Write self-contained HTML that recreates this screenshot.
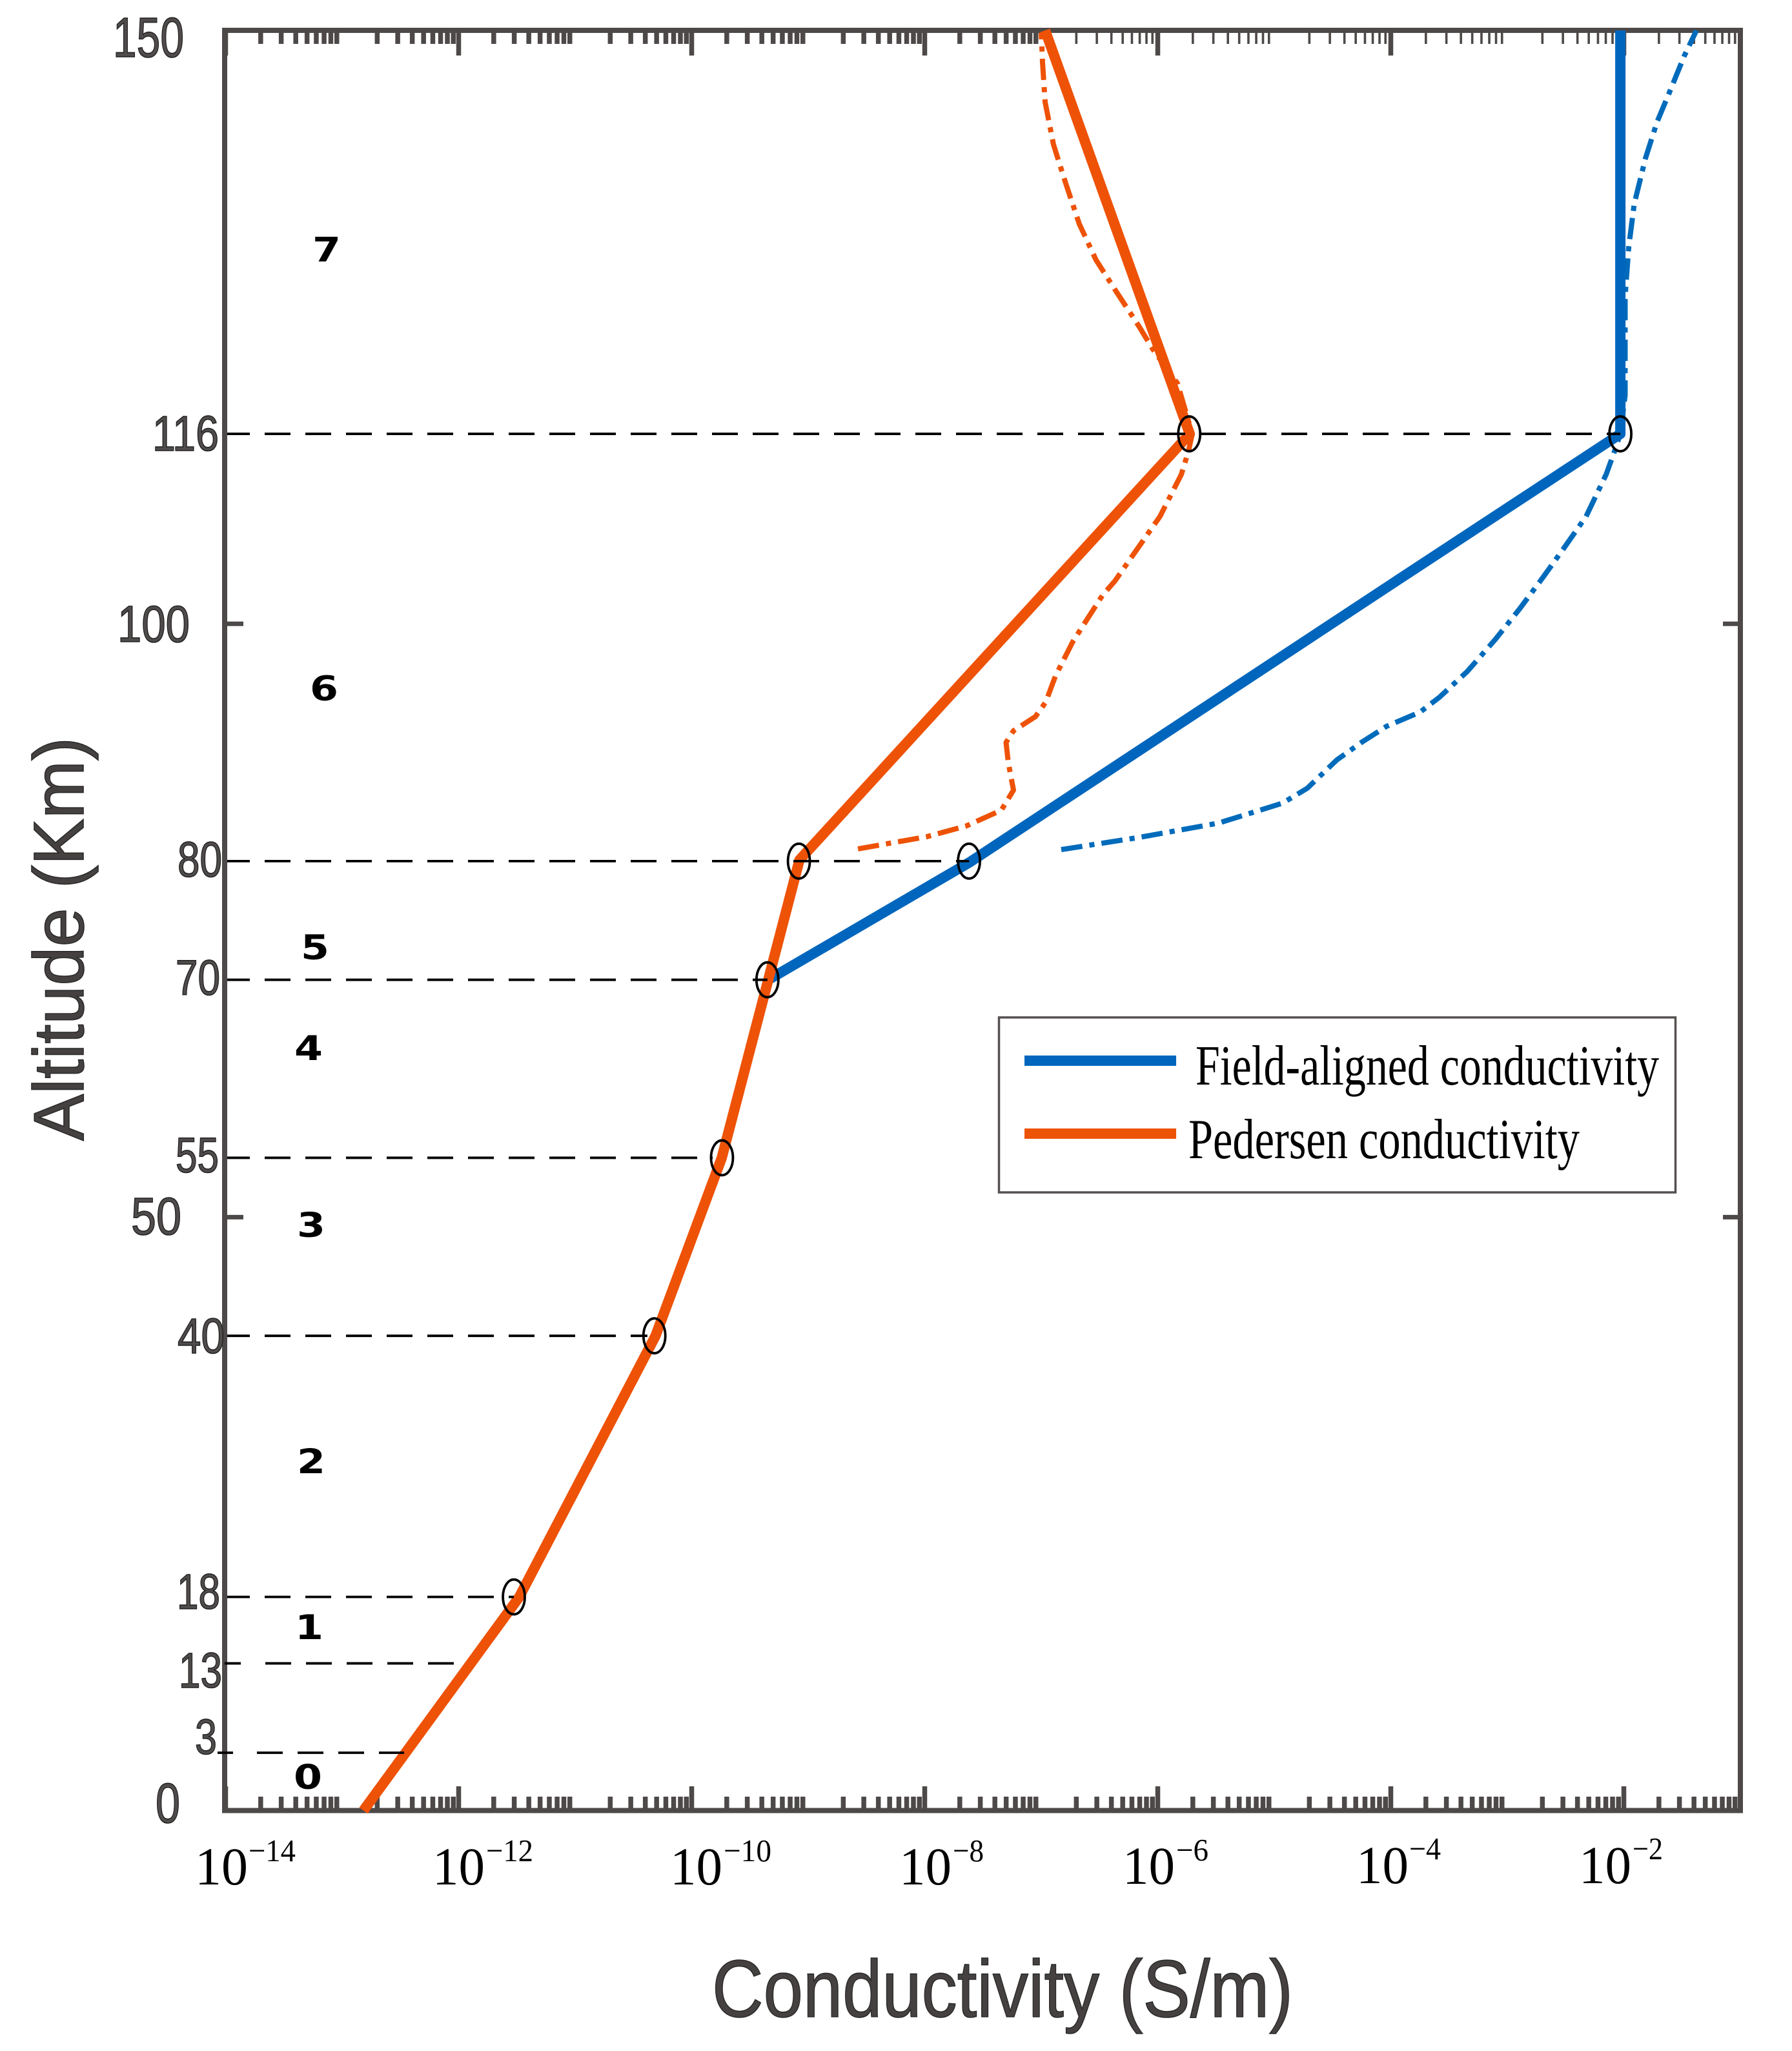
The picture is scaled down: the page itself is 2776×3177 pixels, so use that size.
<!DOCTYPE html>
<html lang="en">
<head>
<meta charset="utf-8">
<title>Conductivity vs altitude</title>
<style>
html,body{margin:0;padding:0;background:#fff;width:2776px;height:3177px;overflow:hidden}
svg{display:block}
.yl{font-family:"Liberation Sans",sans-serif;fill:#504c4b;stroke:#222;stroke-width:1.6}
.xb{font-family:"Liberation Serif",serif;font-size:83px;fill:#000}
.xe{font-family:"Liberation Serif",serif;font-size:49px;fill:#000}
.rg{font-family:"DejaVu Sans",sans-serif;font-weight:bold;font-size:53px;fill:#000;text-anchor:middle}
.lg{font-family:"Liberation Serif",serif;font-size:88px;fill:#000}
.at{font-family:"Liberation Sans",sans-serif;fill:#454140;stroke:#2a2a2a;stroke-width:1.6}
</style>
</head>
<body>
<svg id="chart" xmlns="http://www.w3.org/2000/svg" width="2776" height="3177" viewBox="0 0 2776 3177">
<rect width="2776" height="3177" fill="#fff"/>
<g id="ticks"></g>
<rect x="348" y="47" width="2348" height="2757.5" fill="none" stroke="#4d4948" stroke-width="8"/>

<!-- y-axis labels -->
<g>
<text class="yl" x="175" y="88" font-size="87" textLength="110" lengthAdjust="spacingAndGlyphs">150</text>
<text class="yl" x="236" y="698" font-size="77" textLength="103" lengthAdjust="spacingAndGlyphs">116</text>
<text class="yl" x="182" y="994" font-size="80" textLength="112" lengthAdjust="spacingAndGlyphs">100</text>
<text class="yl" x="275" y="1358" font-size="77" textLength="69" lengthAdjust="spacingAndGlyphs">80</text>
<text class="yl" x="272" y="1541" font-size="77" textLength="69" lengthAdjust="spacingAndGlyphs">70</text>
<text class="yl" x="272" y="1816" font-size="77" textLength="67" lengthAdjust="spacingAndGlyphs">55</text>
<text class="yl" x="203" y="1912" font-size="82" textLength="78" lengthAdjust="spacingAndGlyphs">50</text>
<text class="yl" x="275" y="2096" font-size="77" textLength="73" lengthAdjust="spacingAndGlyphs">40</text>
<text class="yl" x="274" y="2492" font-size="77" textLength="67" lengthAdjust="spacingAndGlyphs">18</text>
<text class="yl" x="277" y="2614" font-size="77" textLength="67" lengthAdjust="spacingAndGlyphs">13</text>
<text class="yl" x="302" y="2717" font-size="77" textLength="34" lengthAdjust="spacingAndGlyphs">3</text>
<text class="yl" x="241" y="2823" font-size="87" textLength="38" lengthAdjust="spacingAndGlyphs">0</text>
</g>

<!-- x-axis labels -->
<g>
<g><text class="xb" x="302" y="2919" textLength="82" lengthAdjust="spacingAndGlyphs">10</text><text class="xe" x="385" y="2883" textLength="73" lengthAdjust="spacingAndGlyphs">−14</text></g>
<g><text class="xb" x="670" y="2919" textLength="81" lengthAdjust="spacingAndGlyphs">10</text><text class="xe" x="753" y="2883" textLength="73" lengthAdjust="spacingAndGlyphs">−12</text></g>
<g><text class="xb" x="1038" y="2919" textLength="81" lengthAdjust="spacingAndGlyphs">10</text><text class="xe" x="1121" y="2883" textLength="74" lengthAdjust="spacingAndGlyphs">−10</text></g>
<g><text class="xb" x="1393" y="2919" textLength="81" lengthAdjust="spacingAndGlyphs">10</text><text class="xe" x="1476" y="2883" textLength="48" lengthAdjust="spacingAndGlyphs">−8</text></g>
<g><text class="xb" x="1739" y="2918" textLength="81" lengthAdjust="spacingAndGlyphs">10</text><text class="xe" x="1822" y="2882" textLength="50" lengthAdjust="spacingAndGlyphs">−6</text></g>
<g><text class="xb" x="2101" y="2917" textLength="81" lengthAdjust="spacingAndGlyphs">10</text><text class="xe" x="2183" y="2880" textLength="49" lengthAdjust="spacingAndGlyphs">−4</text></g>
<g><text class="xb" x="2446" y="2917" textLength="81" lengthAdjust="spacingAndGlyphs">10</text><text class="xe" x="2529" y="2880" textLength="47" lengthAdjust="spacingAndGlyphs">−2</text></g>
</g>

<text class="at" x="1103" y="3124" font-size="125" textLength="900" lengthAdjust="spacingAndGlyphs">Conductivity (S/m)</text>
<text class="at" transform="translate(129,1767) rotate(-90)" font-size="110" textLength="625" lengthAdjust="spacingAndGlyphs">Altitude (Km)</text>

<!-- atmospheric layer numbers -->
<g>
<text class="rg" x="506" y="405" textLength="44" lengthAdjust="spacingAndGlyphs">7</text>
<text class="rg" x="502" y="1085" textLength="44" lengthAdjust="spacingAndGlyphs">6</text>
<text class="rg" x="488" y="1486" textLength="44" lengthAdjust="spacingAndGlyphs">5</text>
<text class="rg" x="478" y="1642" textLength="44" lengthAdjust="spacingAndGlyphs">4</text>
<text class="rg" x="482" y="1916" textLength="44" lengthAdjust="spacingAndGlyphs">3</text>
<text class="rg" x="482" y="2282" textLength="44" lengthAdjust="spacingAndGlyphs">2</text>
<text class="rg" x="479" y="2539" textLength="44" lengthAdjust="spacingAndGlyphs">1</text>
<text class="rg" x="477" y="2771" textLength="44" lengthAdjust="spacingAndGlyphs">0</text>
</g>

<g id="series"></g>
<g id="guides"></g>
<g id="markers"></g>

<!-- legend -->
<g>
<rect x="1547.5" y="1576" width="1048" height="271" fill="#fff" stroke="#555150" stroke-width="3.5"/>
<rect x="1587" y="1635" width="235" height="16" fill="#0066bd"/>
<text class="lg" x="1852" y="1680" textLength="718" lengthAdjust="spacingAndGlyphs">Field-aligned conductivity</text>
<rect x="1587" y="1748" width="235" height="16" fill="#ec5304"/>
<text class="lg" x="1841" y="1794" textLength="606" lengthAdjust="spacingAndGlyphs">Pedersen conductivity</text>
</g>
</svg>

<script>
// ---- chart data: log10 conductivity (S/m) against altitude (km) ----
const xMajorExponents = [-14, -12, -10, -8, -6, -4, -2];
const xDecades = [-14, -13, -12, -11, -10, -9, -8, -7, -6, -5, -4, -3, -2];
const minorMultipliers = [2, 3, 4, 5, 6, 7, 8, 9];
const yAxisTicks = [100, 50];

const pedersenAlt = [0, 18, 40, 55, 70, 80.1, 116, 150];
const pedersenLog = [-12.817, -11.48, -10.31, -9.742, -9.343, -9.075, -5.726, -6.967];

const fieldAlignedAlt = [70, 79.9, 103.6, 116, 150];
const fieldAlignedLog = [-9.343, -7.615, -3.953, -2.03, -2.03];

const pedersenModelAlt = [81.03, 82.06, 82.96, 84.29, 85.98, 88.32, 90, 90.98, 92.18, 93.4, 95.6, 98.49, 102.4, 103.6, 109.04, 112.58, 114.54, 116, 120.25, 123.13, 125.09, 128, 130.64, 133.68, 137.27, 140.37, 143.96, 147.3, 149.8];
const pedersenModelLog = [-8.573, -7.981, -7.643, -7.343, -7.238, -7.283, -7.302, -7.238, -7.05, -6.961, -6.878, -6.729, -6.474, -6.368, -5.981, -5.798, -5.737, -5.704, -5.831, -6.042, -6.163, -6.357, -6.529, -6.673, -6.795, -6.895, -6.967, -6.989, -7];

const fieldModelAlt = [80.97, 82, 83.2, 84.89, 86.14, 88.53, 90, 91.36, 92.56, 93.81, 95.99, 98.71, 101.32, 104.04, 106.32, 109.04, 112.58, 114.54, 116, 119.27, 127.6, 131.74, 135.38, 139.24, 142.28, 144.51, 147.83, 150];
const fieldModelLog = [-6.828, -6.158, -5.479, -4.928, -4.717, -4.463, -4.252, -4.036, -3.748, -3.582, -3.343, -3.1, -2.889, -2.684, -2.518, -2.324, -2.152, -2.08, -2.03, -1.989, -1.989, -1.958, -1.911, -1.814, -1.715, -1.62, -1.482, -1.377];

const guideAlt = [116, 80, 70, 55, 40, 18, 12.4, 4.87];
const guideEndLog = [-2.03, -7.62, -9.35, -9.82, -10.38, -11.526, -12.036, -12.468];

const markerAlt = [116, 116, 80, 80, 70, 55, 40, 18];
const markerLog = [-5.73, -2.03, -9.08, -7.62, -9.35, -9.74, -10.32, -11.526];

// ---- axis functions ----
const NS = 'http://www.w3.org/2000/svg';
function xScale(lg) { return 349.5 + (lg + 14) * 180.5; }
function yScale(alt) { return 2804.5 - alt * 18.383; }

const ticksG = document.getElementById('ticks');
const seriesG = document.getElementById('series');
const guidesG = document.getElementById('guides');
const markersG = document.getElementById('markers');

function addTick(x1, y1, x2, y2, w) {
  const el = document.createElementNS(NS, 'line');
  el.setAttribute('x1', x1);
  el.setAttribute('y1', y1);
  el.setAttribute('x2', x2);
  el.setAttribute('y2', y2);
  el.setAttribute('stroke', '#4d4948');
  el.setAttribute('stroke-width', w);
  
  
  ticksG.appendChild(el);
}

xDecades.forEach(function (d) {
  minorMultipliers.forEach(function (m) {
    const x = xScale(d + Math.log10(m));
    addTick(x, 2801, x, 2783, 7.5);
    addTick(x, 51, x, 68, d < -7 ? 7.5 : 3.6);
  });
});
xMajorExponents.forEach(function (e) {
  const x = xScale(e);
  addTick(x, 2801, x, 2767, 7.5);
  addTick(x, 51, x, 86, 7.5);
});
yAxisTicks.forEach(function (a) {
  const y = yScale(a);
  addTick(352, y, 377, y, 7);
  addTick(2669, y, 2692, y, 7);
});

function pathFrom(alts, logs) {
  return alts.map(function (a, i) {
    return (i ? 'L' : 'M') + xScale(logs[i]).toFixed(1) + ' ' + yScale(a).toFixed(1);
  }).join(' ');
}

function addSeries(alts, logs, color, width, dash, name) {
  const el = document.createElementNS(NS, 'path');
  el.setAttribute('d', pathFrom(alts, logs));
  el.setAttribute('fill', 'none');
  el.setAttribute('stroke', color);
  el.setAttribute('stroke-width', width);
  el.setAttribute('stroke-linejoin', 'round');
  if (dash) el.setAttribute('stroke-dasharray', dash);
  
  
  seriesG.appendChild(el);
}

addSeries(fieldModelAlt, fieldModelLog, '#006bbb', 8, '33 11 8 11', 'field-aligned-model-line');
addSeries(pedersenModelAlt, pedersenModelLog, '#ee5207', 8, '33 11 8 11', 'pedersen-model-line');
addSeries(fieldAlignedAlt, fieldAlignedLog, '#0066bd', 16, null, 'field-aligned-line');
addSeries(pedersenAlt, pedersenLog, '#ee5207', 16, null, 'pedersen-line');

const longRun = ' 40 23 40 23 40 23 40 23 40 23 40 23 40 23 40 23 40 23 40 23 40 23 40 23';
guideAlt.forEach(function (a, i) {
  const y = yScale(a);
  const el = document.createElementNS(NS, 'line');
  el.setAttribute('x1', i === 7 ? 337 : (i === 6 ? 348 : 352));
  el.setAttribute('y1', y);
  el.setAttribute('x2', xScale(guideEndLog[i]));
  el.setAttribute('y2', y);
  el.setAttribute('stroke', '#000');
  el.setAttribute('stroke-width', 3.8);
  if (i >= 6) {
    el.setAttribute('stroke-dasharray', (i === 7 ? '24 37' : '25 38') + longRun);
  } else {
    el.setAttribute('stroke-dasharray', '40 23');
    el.setAttribute('stroke-dashoffset', 5);
  }
  
  
  guidesG.appendChild(el);
});

markerAlt.forEach(function (a, i) {
  const el = document.createElementNS(NS, 'ellipse');
  el.setAttribute('cx', xScale(markerLog[i]));
  el.setAttribute('cy', yScale(a));
  el.setAttribute('rx', 17);
  el.setAttribute('ry', 27);
  el.setAttribute('fill', 'none');
  el.setAttribute('stroke', '#000');
  el.setAttribute('stroke-width', 3.8);
  
  
  markersG.appendChild(el);
});
</script>
</body>
</html>
